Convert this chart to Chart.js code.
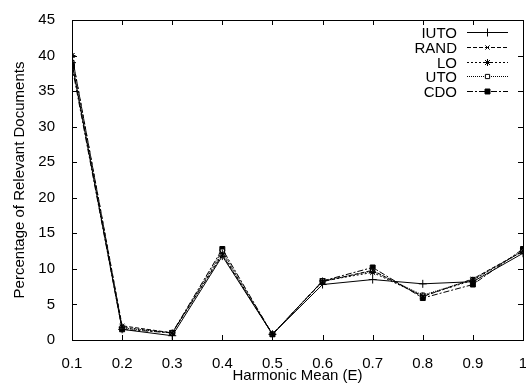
<!DOCTYPE html>
<html>
<head>
<meta charset="utf-8">
<script src="https://cdn.jsdelivr.net/npm/chart.js@4/dist/chart.umd.min.js"></script>
<style>
  html, body { margin: 0; padding: 0; background: #fff; overflow: hidden; }
  #wrap { width: 526px; height: 385px; overflow: hidden; }
  #wrap canvas { display: block; }
</style>
</head>
<body>
<div id="wrap"><canvas id="chart" width="540" height="385"></canvas></div>
<script>
// data
const xValues = [0.1, 0.2, 0.3, 0.4, 0.5, 0.6, 0.7, 0.8, 0.9, 1.0];
const seriesNames = ['IUTO', 'RAND', 'LO', 'UTO', 'CDO'];
const iuto = [39.0, 1.5, 0.6, 11.8, 0.8, 7.8, 8.5, 7.9, 8.2, 12.2];
const rand = [40.0, 2.0, 1.0, 12.0, 0.8, 8.2, 9.8, 6.1, 8.6, 12.5];
const lo   = [40.0, 1.8, 1.0, 12.2, 0.8, 8.3, 9.5, 6.2, 8.4, 12.5];
const uto  = [39.0, 1.7, 1.0, 12.5, 0.8, 8.3, 9.7, 6.3, 8.5, 12.5];
const cdo  = [38.5, 1.5, 1.0, 12.8, 0.8, 8.3, 10.2, 5.9, 7.8, 12.8];
const yTicks = [0, 5, 10, 15, 20, 25, 30, 35, 40, 45];

const FONT = 'Liberation Sans, Arial, sans-serif';

const styles = [
    { dash: [],           point: 'cross',    bg: '#000', radius: 4 },
    { dash: [4, 2],       point: 'crossRot', bg: '#000', radius: 3 },
    { dash: [2, 2],       point: 'star',     bg: '#000', radius: 3.5 },
    { dash: [1, 1],       point: 'rect',     bg: '#fff', radius: 3 },
    { dash: [6, 2, 2, 2], point: 'rect',     bg: '#000', radius: 3.5 }
];
const allValues = [iuto, rand, lo, uto, cdo];

const datasets = seriesNames.map((name, i) => ({
    label: name,
    data: xValues.map((x, j) => ({ x: x, y: allValues[i][j] })),
    borderColor: '#000',
    borderWidth: 1,
    borderDash: styles[i].dash,
    pointStyle: styles[i].point,
    pointRadius: styles[i].radius,
    pointBorderColor: '#000',
    pointBorderWidth: 1,
    pointBackgroundColor: styles[i].bg,
    tension: 0,
    fill: false
}));

// gnuplot-ish frame with inward ticks on all four sides
const framePlugin = {
    id: 'frame',
    afterDatasetsDraw(chart) {
        const { ctx, chartArea: a, scales } = chart;
        ctx.save();
        ctx.strokeStyle = '#000';
        ctx.lineWidth = 1;
        ctx.setLineDash([]);
        ctx.strokeRect(a.left + 0.5, a.top + 0.5, a.right - a.left, a.bottom - a.top);
        const len = 5;
        ctx.beginPath();
        xValues.forEach(v => {
            const px = Math.round(scales.x.getPixelForValue(v)) + 0.5;
            ctx.moveTo(px, a.bottom); ctx.lineTo(px, a.bottom - len);
            ctx.moveTo(px, a.top); ctx.lineTo(px, a.top + len);
        });
        yTicks.forEach(v => {
            const py = Math.round(scales.y.getPixelForValue(v)) + 0.5;
            ctx.moveTo(a.left, py); ctx.lineTo(a.left + len, py);
            ctx.moveTo(a.right, py); ctx.lineTo(a.right - len, py);
        });
        ctx.stroke();
        ctx.restore();
    }
};

// legend in the top-right corner, label then line sample
const keyPlugin = {
    id: 'key',
    afterDatasetsDraw(chart) {
        const { ctx } = chart;
        ctx.save();
        ctx.font = '15px ' + FONT;
        ctx.textAlign = 'right';
        ctx.textBaseline = 'middle';
        chart.data.datasets.forEach((ds, i) => {
            const y = Math.round(32 + i * 14.8) + 0.5;
            ctx.fillStyle = '#000';
            ctx.fillText(ds.label, 457, y + 1);
            ctx.strokeStyle = '#000';
            ctx.lineWidth = 1;
            ctx.setLineDash(ds.borderDash);
            ctx.beginPath();
            ctx.moveTo(467, y);
            ctx.lineTo(508, y);
            ctx.stroke();
            ctx.setLineDash([]);
            ctx.fillStyle = ds.pointBackgroundColor;
            ctx.strokeStyle = '#000';
            Chart.helpers.drawPoint(ctx, {
                pointStyle: ds.pointStyle,
                radius: ds.pointRadius,
                rotation: 0,
                borderWidth: 1
            }, 487.5, y);
        });
        ctx.restore();
    }
};

new Chart(document.getElementById('chart'), {
    type: 'line',
    data: { datasets: datasets },
    options: {
        responsive: false,
        animation: false,
        layout: { padding: { top: 20, right: 17, left: 0, bottom: 0 } },
        plugins: { legend: { display: false }, tooltip: { enabled: false } },
        scales: {
            x: {
                type: 'linear',
                min: 0.1,
                max: 1.0,
                afterFit(s) { s.height = 45; },
                border: { display: false },
                grid: { display: false },
                ticks: {
                    stepSize: 0.1,
                    color: '#000',
                    font: { family: FONT, size: 15 },
                    padding: 7,
                    maxRotation: 0,
                    autoSkip: false,
                    callback: v => String(Math.round(v * 10) / 10)
                },
                title: {
                    display: true,
                    text: 'Harmonic Mean (E)',
                    color: '#000',
                    font: { family: FONT, size: 15 },
                    padding: { top: 0, bottom: 0 }
                }
            },
            y: {
                min: 0,
                max: 45,
                afterFit(s) { s.width = 72; },
                border: { display: false },
                grid: { display: false },
                ticks: {
                    stepSize: 5,
                    color: '#000',
                    font: { family: FONT, size: 15 },
                    padding: 9
                },
                title: {
                    display: true,
                    text: 'Percentage of Relevant Documents',
                    color: '#000',
                    font: { family: FONT, size: 15 },
                    padding: { top: 11, bottom: 4 }
                }
            }
        }
    },
    plugins: [framePlugin, keyPlugin]
});
</script>
</body>
</html>
